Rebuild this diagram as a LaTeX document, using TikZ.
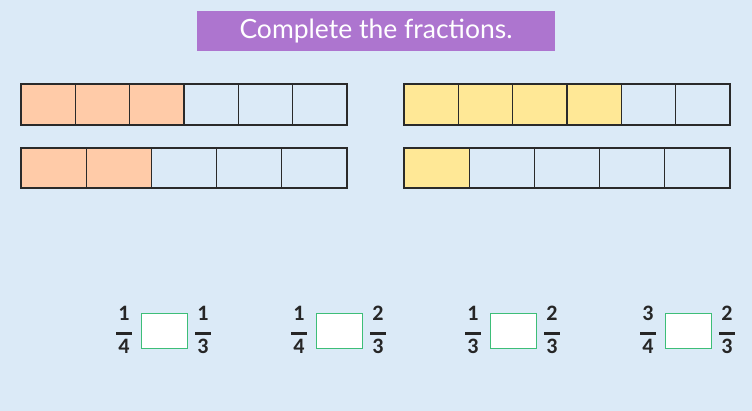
\documentclass[tikz,border=0pt]{standalone}
\usepackage{fontspec}
\setmainfont{Carlito}
\newfontfamily\titlefont{Lato}
\usetikzlibrary{calc}

\definecolor{bgblue}{HTML}{DBEAF7}
\definecolor{titlepurple}{HTML}{AD75CF}
\definecolor{peach}{HTML}{FFCBA8}
\definecolor{lemon}{HTML}{FFE896}
\definecolor{boxgreen}{HTML}{3DBE78}
\definecolor{barink}{HTML}{2A2A2A}

\tikzset{
  barline/.style={draw=barink, line width=1.1pt},
  titlebox/.style={fill=titlepurple, text=white, minimum width=358pt, minimum height=40pt,
    inner sep=0pt, font=\titlefont\fontsize{26.5}{30}\selectfont},
  digit/.style={inner sep=0pt, anchor=base, font=\bfseries\fontsize{22}{24}\selectfont, text=black!85},
  fracbar/.style={line width=3pt, black!85},
  answerbox/.style={draw=boxgreen, line width=1.3pt, fill=white, minimum width=46pt,
    minimum height=35pt, inner sep=0pt}
}

\begin{document}
\begin{tikzpicture}[x=1pt, y=-1pt]
  \useasboundingbox[fill=bgblue] (0,0) rectangle (752,411);

  % title
  \node[titlebox] (title) at (376,31) {Complete the fractions.};

  % sixths and fifths, left
  \fill[peach] (21,84) rectangle (183,125);
  \draw[barline] (21,84) rectangle (347,125);
  \foreach \k in {1,...,5} \draw[barline] ({21+\k*326/6},84) -- ++(0,41);

  \fill[peach] (21,148) rectangle (151.4,188);
  \draw[barline] (21,148) rectangle (347,188);
  \foreach \k in {1,...,4} \draw[barline] ({21+\k*326/5},148) -- ++(0,40);

  % sixths and fifths, right
  \fill[lemon] (404,84) rectangle (621.3,125);
  \draw[barline] (404,84) rectangle (730,125);
  \foreach \k in {1,...,5} \draw[barline] ({404+\k*326/6},84) -- ++(0,41);

  \fill[lemon] (404,148) rectangle (469.2,188);
  \draw[barline] (404,148) rectangle (730,188);
  \foreach \k in {1,...,4} \draw[barline] ({404+\k*326/5},148) -- ++(0,40);

  % fractions to compare
  \foreach \n/\off/\la/\lb/\ra/\rb in {1/0/1/4/1/3, 2/175/1/4/2/3, 3/349/1/3/2/3, 4/524/3/4/2/3} {
    \node[digit] (ln\n) at (124+\off,321) {\la};
    \node[digit] (ld\n) at (124+\off,354) {\lb};
    \draw[fracbar] ($(ln\n.base)!0.5!(ld\n.base)+(-8,-3.5)$) -- ++(16,0);
    \node[answerbox] (box\n) at (164.5+\off,331) {};
    \node[digit] (rn\n) at (203+\off,321) {\ra};
    \node[digit] (rd\n) at (203+\off,354) {\rb};
    \draw[fracbar] ($(rn\n.base)!0.5!(rd\n.base)+(-8,-3.5)$) -- ++(16,0);
  }
\end{tikzpicture}
\end{document}
